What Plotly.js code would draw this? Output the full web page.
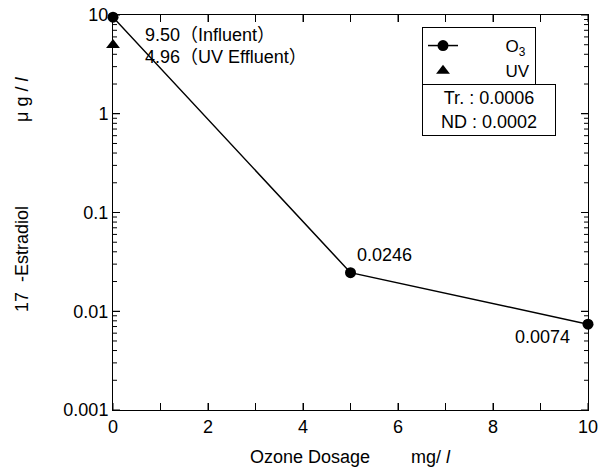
<!DOCTYPE html>
<html><head><meta charset="utf-8">
<script src="https://cdn.plot.ly/plotly-3.0.1.min.js"></script>
<style>html,body{margin:0;padding:0;background:#fff;}#chart{width:600px;height:470px;}</style>
</head><body><div id="chart"></div>
<script>
const ozoneDose = [0, 5, 10];
const ozoneConc = [9.50, 0.0246, 0.0074];
const uvDose = [0];
const uvConc = [4.96];
const pointLabels = ["0.0246", "0.0074"];
const xTickVals = [0, 2, 4, 6, 8, 10];
const xMinorVals = [1, 3, 5, 7, 9];
const yTickVals = [0.001, 0.01, 0.1, 1, 10];
const yTickText = ["0.001", "0.01", "0.1", "1", "10"];
const yMinorDigits = [2, 3, 4, 5, 6, 7, 8, 9];

const FONT = "'Liberation Sans', Arial, sans-serif";
const CJKFONT = "'Liberation Sans', Arial, 'Noto Sans CJK JP', sans-serif";
const FS = 18;
const NB = "\u00A0";
const X_RANGE = [0, 10];
const Y_RANGE = [-3, 1];

const traces = [
  {x: ozoneDose, y: ozoneConc, name: NB.repeat(9) + "O<sub>3</sub>", mode: "lines+markers", type: "scatter",
   line: {color: "#000", width: 1.5}, marker: {symbol: "circle", size: 11, color: "#000"}, cliponaxis: false},
  {x: uvDose, y: uvConc, name: NB.repeat(9) + "UV", mode: "markers", type: "scatter",
   marker: {symbol: "triangle-up", size: 12, color: "#000"}, cliponaxis: false}
];

const L = 113, R = 588, T = 15, B = 410;
const px2x = p => (p - L) / (R - L);
const py2y = p => 1 - (p - T) / (B - T);

// tick marks (axis decoration), positioned from the tick arrays
const xPaper = v => (v - X_RANGE[0]) / (X_RANGE[1] - X_RANGE[0]);
const yPaper = v => (Math.log10(v) - Y_RANGE[0]) / (Y_RANGE[1] - Y_RANGE[0]);
const tickLine = {color: "#000", width: 1};
const shapes = [];
xTickVals.concat(xMinorVals).forEach(v => {
  const p = xPaper(v);
  shapes.push({type: "line", xref: "paper", yref: "paper", ysizemode: "pixel", yanchor: 0, x0: p, x1: p, y0: 0, y1: 7, line: tickLine});
  shapes.push({type: "line", xref: "paper", yref: "paper", ysizemode: "pixel", yanchor: 1, x0: p, x1: p, y0: -7, y1: 0, line: tickLine});
});
const yMajor = yTickVals.map(v => [v, 7]);
const yMinor = [];
yTickVals.slice(0, -1).forEach(d => yMinorDigits.forEach(k => yMinor.push([d * k, 4])));
yMajor.concat(yMinor).forEach(([v, len]) => {
  const p = yPaper(v);
  shapes.push({type: "line", xref: "paper", yref: "paper", xsizemode: "pixel", xanchor: 0, x0: 0, x1: len, y0: p, y1: p, line: tickLine});
  shapes.push({type: "line", xref: "paper", yref: "paper", xsizemode: "pixel", xanchor: 1, x0: -len, x1: 0, y0: p, y1: p, line: tickLine});
});

const layout = {
  width: 600, height: 470,
  margin: {l: L, r: 600 - R, t: T, b: 470 - B},
  paper_bgcolor: "#fff", plot_bgcolor: "#fff",
  font: {family: FONT, size: FS, color: "#000"},
  showlegend: true,
  legend: {x: px2x(422), y: py2y(27), xanchor: "left", yanchor: "top",
    bordercolor: "#000", borderwidth: 1, bgcolor: "#fff", font: {family: FONT, size: 17}},
  xaxis: {range: X_RANGE, tickvals: xTickVals, ticks: "inside", ticklen: 7, tickwidth: 1, tickcolor: "#000",
    showline: true, linecolor: "#000", linewidth: 1, mirror: "allticks", showgrid: false, zeroline: false, automargin: false},
  yaxis: {type: "log", range: Y_RANGE, tickvals: yTickVals, ticktext: yTickText, ticks: "inside", ticklen: 7, tickwidth: 1, tickcolor: "#000",
    showline: true, linecolor: "#000", linewidth: 1, mirror: "allticks", showgrid: false, zeroline: false, automargin: false},
  shapes: shapes,
  annotations: [
    {x: px2x(350), y: py2y(457), xref: "paper", yref: "paper", text: "Ozone Dosage　　 mg/ <i>l</i>", showarrow: false, xanchor: "center", yanchor: "middle", font: {family: CJKFONT}},
    {x: px2x(22), y: py2y(195), xref: "paper", yref: "paper", text: "17  -Estradiol　　　" + NB.repeat(5) + " μ g / <i>l</i>", textangle: -90, showarrow: false, xanchor: "center", yanchor: "middle", font: {family: CJKFONT}},
    {x: px2x(143), y: py2y(35), xref: "paper", yref: "paper", text: "9.50（Influent）", showarrow: false, xanchor: "left", yanchor: "middle", font: {family: CJKFONT}},
    {x: px2x(143), y: py2y(57), xref: "paper", yref: "paper", text: "4.96（UV Effluent）", showarrow: false, xanchor: "left", yanchor: "middle", font: {family: CJKFONT}},
    {x: px2x(355), y: py2y(255), xref: "paper", yref: "paper", text: pointLabels[0], showarrow: false, xanchor: "left", yanchor: "middle"},
    {x: px2x(572), y: py2y(337), xref: "paper", yref: "paper", text: pointLabels[1], showarrow: false, xanchor: "right", yanchor: "middle"},
    {x: px2x(489), y: py2y(110), xref: "paper", yref: "paper", xanchor: "center", yanchor: "middle", text: "Tr. : 0.0006<br>ND : 0.0002", showarrow: false,
     bordercolor: "#000", borderwidth: 1, bgcolor: "#fff", width: 130, height: 48}
  ]
};
Plotly.newPlot("chart", traces, layout, {displayModeBar: false});
</script></body></html>
